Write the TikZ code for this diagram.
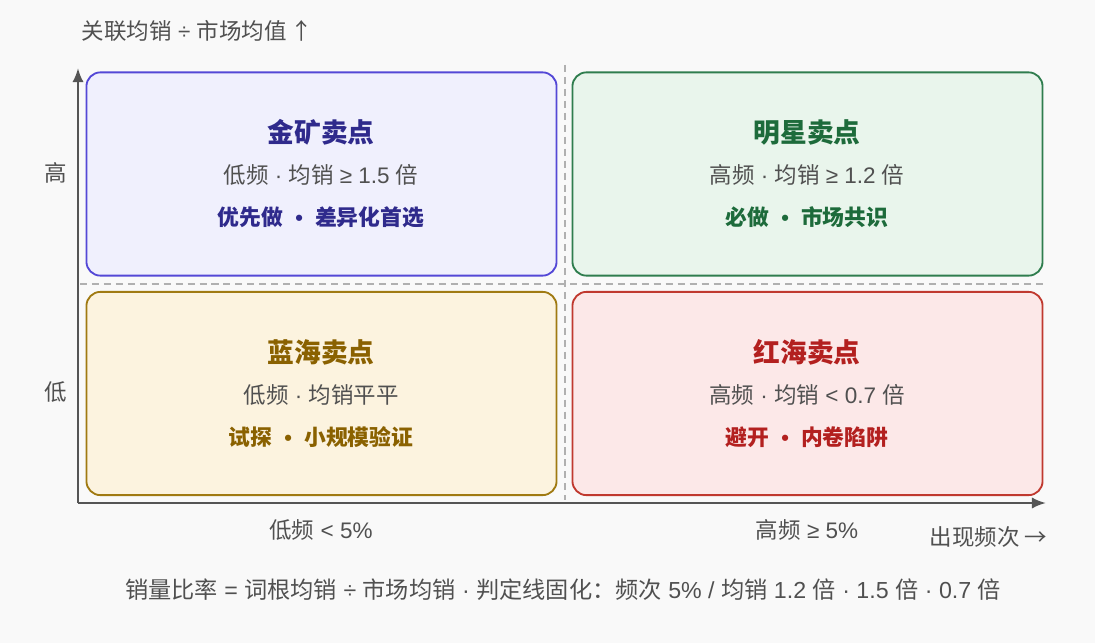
\documentclass[tikz,border=0pt]{standalone}
\usepackage{fontspec}
\setmainfont{Noto Sans CJK SC}
\newfontfamily\latinfont{Liberation Sans}
\usepackage{tikz}
\usetikzlibrary{shapes.geometric, arrows, arrows.meta}

\newcommand{\lf}{\latinfont}
\newcommand{\bulsep}{{\lf\ \ •\ \ }}

\definecolor{bgGray}{HTML}{F9F9F9}
\definecolor{axisGray}{HTML}{555555}
\definecolor{txtGray}{HTML}{505050}
\definecolor{gridGray}{HTML}{B0B0B0}
\definecolor{goldLine}{HTML}{5448D6}
\definecolor{goldFill}{HTML}{F0F0FD}
\definecolor{goldText}{HTML}{2F2A8C}
\definecolor{starLine}{HTML}{2F7D4E}
\definecolor{starFill}{HTML}{E9F5EC}
\definecolor{starText}{HTML}{1D6B3B}
\definecolor{blueLine}{HTML}{A07A12}
\definecolor{blueFill}{HTML}{FCF3DF}
\definecolor{blueText}{HTML}{8A6100}
\definecolor{redLine}{HTML}{C0392F}
\definecolor{redFill}{HTML}{FCE8E8}
\definecolor{redText}{HTML}{B3201F}

\tikzset{
  quadbox/.style={draw, line width=1.3pt, rounded corners=0.35cm,
    minimum width=11.75cm, minimum height=5.08cm},
  quadtitle/.style={font=\fontsize{19}{22}\selectfont\bfseries},
  quadsub/.style={font=\fontsize{16}{19}\selectfont, text=txtGray},
  quadact/.style={font=\fontsize{15.5}{18}\selectfont\bfseries},
  axislabel/.style={font=\fontsize{16}{19}\selectfont, text=txtGray},
  axisline/.style={-{Latex[length=10pt,width=8pt]}, axisGray, line width=1.7pt},
  gridline/.style={draw=gridGray, line width=0.9pt, dash pattern=on 5pt off 3.5pt}
}

\begin{document}
\begin{tikzpicture}[x=0.025cm, y=-0.025cm]
\fill[bgGray] (0,0) rectangle (1095,643);
\useasboundingbox (0,0) rectangle (1095,643);

% quadrants
\node[quadbox, draw=goldLine, fill=goldFill] (QuadGold) at (321.5,174) {};
\node[quadbox, draw=starLine, fill=starFill] (QuadStar) at (807.5,174) {};
\node[quadbox, draw=blueLine, fill=blueFill] (QuadBlue) at (321.5,393.5) {};
\node[quadbox, draw=redLine, fill=redFill] (QuadRed) at (807.5,393.5) {};

% dividers
\coordinate (DivTop) at (565,65);
\coordinate (DivBottom) at (565,500);
\coordinate (DivLeft) at (80,284);
\coordinate (DivRight) at (1046,284);
\draw[gridline] (DivTop) -- (DivBottom);
\draw[gridline] (DivLeft) -- (DivRight);

% axes
\coordinate (Origin) at (78,503);
\coordinate (YEnd) at (78,68);
\coordinate (XEnd) at (1046,503);
\draw[axisline] (Origin) -- (YEnd);
\draw[axisline] (Origin) -- (XEnd);

% texts in quadrants
\node[quadtitle, text=goldText] (GoldTitle) at (321,132) {金矿卖点};
\node[quadsub] (GoldSub) at (321,175) {低频{\lf\ · }均销{\lf\ ≥ 1.5 }倍};
\node[quadact, text=goldText] (GoldAct) at (321,217) {优先做\bulsep 差异化首选};

\node[quadtitle, text=starText] (StarTitle) at (807,132) {明星卖点};
\node[quadsub] (StarSub) at (807,175) {高频{\lf\ · }均销{\lf\ ≥ 1.2 }倍};
\node[quadact, text=starText] (StarAct) at (807,217) {必做\bulsep 市场共识};

\node[quadtitle, text=blueText] (BlueTitle) at (321,352) {蓝海卖点};
\node[quadsub] (BlueSub) at (321,395) {低频{\lf\ · }均销平平};
\node[quadact, text=blueText] (BlueAct) at (321,437) {试探\bulsep 小规模验证};

\node[quadtitle, text=redText] (RedTitle) at (807,352) {红海卖点};
\node[quadsub] (RedSub) at (807,395) {高频{\lf\ · }均销{\lf\ < 0.7 }倍};
\node[quadact, text=redText] (RedAct) at (807,437) {避开\bulsep 内卷陷阱};

% axis labels
\node[axislabel, anchor=west] (YTitle) at (77,31) {关联均销{\lf\ ÷ }市场均值{\lf\,}↑};
\node[axislabel] (YHigh) at (56,173) {高};
\node[axislabel] (YLow) at (56,392) {低};
\node[axislabel] (XLow) at (321,530) {低频{\lf\ < 5\%}};
\node[axislabel] (XHigh) at (807,530) {高频{\lf\ ≥ 5\%}};
\node[axislabel, anchor=east] (XTitle) at (1052,537) {出现频次 →};

\node[axislabel, font=\fontsize{16.5}{19}\selectfont] (Note) at (563,590) {销量比率{\lf\ = }词根均销{\lf\ ÷ }市场均销{\lf\ · }判定线固化：频次{\lf\ 5\% / }均销{\lf\ 1.2 }倍{\lf\ · 1.5 }倍{\lf\ · 0.7 }倍};
\end{tikzpicture}
\end{document}
